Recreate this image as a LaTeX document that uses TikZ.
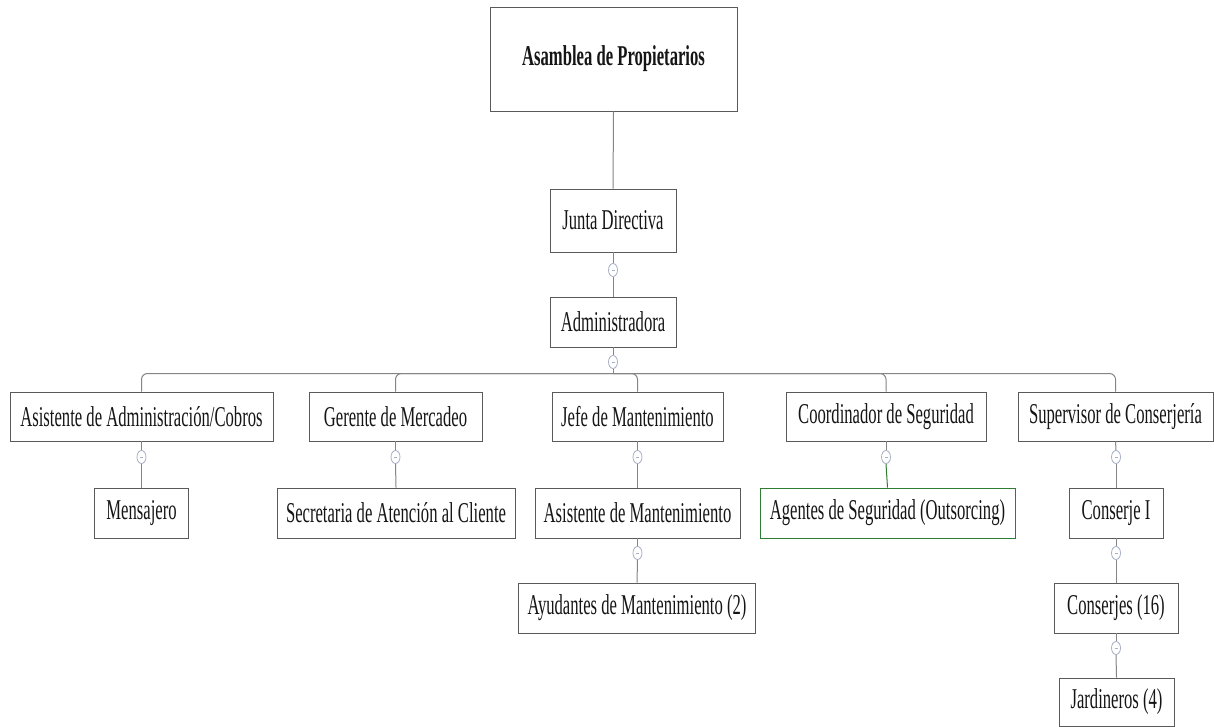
\documentclass[tikz,border=0pt]{standalone}
\usepackage{fontspec}
\setmainfont{Liberation Serif}[FakeStretch=0.58]
\usetikzlibrary{shapes.geometric}
\definecolor{boxline}{HTML}{5A5A5A}
\definecolor{conn}{HTML}{858585}
\definecolor{markcol}{HTML}{A8B0C8}
\definecolor{greenline}{HTML}{2E7D32}
\definecolor{txt}{HTML}{151515}
\tikzset{
  orgbox/.style={draw=boxline, line width=0.9pt, fill=white, inner sep=0pt, anchor=center,
    text=txt, font=\fontsize{28.7}{32}\selectfont},
  collapse/.style={ellipse, draw=markcol, line width=0.8pt, fill=white, inner sep=0pt,
    minimum width=9pt, minimum height=13pt,
    path picture={\draw[draw=markcol, line width=0.8pt] ([xshift=-1.5pt]path picture bounding box.center) -- ([xshift=1.5pt]path picture bounding box.center);}},
  link/.style={draw=conn, line width=1pt},
}
\begin{document}
\begin{tikzpicture}[x=1pt,y=-1pt]
\useasboundingbox[fill=white] (0,0) rectangle (1214,727);
% boxes
\node[orgbox, minimum width=247pt, minimum height=104pt, font=\fontsize{28.7}{32}\selectfont\bfseries] (asamblea) at (613.5,59) {Asamblea de Propietarios};
\node[orgbox, minimum width=126pt, minimum height=63pt] (junta) at (613,220.5) {Junta Directiva};
\node[orgbox, minimum width=126pt, minimum height=50pt] (admin) at (613,322) {Administradora};
% row 1
\node[orgbox, minimum width=263pt, minimum height=49pt] (asis) at (141.5,416.5) {Asistente de Administración/Cobros};
\node[orgbox, minimum width=173pt, minimum height=49pt] (gerente) at (395.5,416.5) {Gerente de Mercadeo};
\node[orgbox, minimum width=171pt, minimum height=49pt] (jefe) at (637.5,416.5) {Jefe de Mantenimiento};
\node[orgbox, minimum width=200pt, minimum height=49pt] (coord) at (886,416.5) {Coordinador de Seguridad};
\node[orgbox, minimum width=195pt, minimum height=49pt] (superv) at (1115.5,416.5) {Supervisor de Conserjería};
% row 2
\node[orgbox, minimum width=94pt, minimum height=50pt] (mensajero) at (141.5,513) {Mensajero};
\node[orgbox, minimum width=238pt, minimum height=50pt] (secretaria) at (396,513) {Secretaria de Atención al Cliente};
\node[orgbox, minimum width=205pt, minimum height=50pt] (asismant) at (637.5,513) {Asistente de Mantenimiento};
\node[orgbox, draw=greenline, minimum width=255pt, minimum height=50pt] (agentes) at (887.5,513) {Agentes de Seguridad (Outsorcing)};
\node[orgbox, minimum width=94pt, minimum height=50pt] (conserjeI) at (1116,513) {Conserje I};
% row 3
\node[orgbox, minimum width=237pt, minimum height=50pt] (ayudantes) at (637,608) {Ayudantes de Mantenimiento (2)};
\node[orgbox, minimum width=124pt, minimum height=50pt] (conserjes) at (1116,608) {Conserjes (16)};
\node[orgbox, minimum width=115pt, minimum height=48pt] (jardineros) at (1116.5,702) {Jardineros (4)};
% collapse markers
\node[collapse] (m1) at (613,270) {};
\node[collapse] (m2) at (613,362) {};
\node[collapse] (ma) at (141.5,457) {};
\node[collapse] (mg) at (395.5,457) {};
\node[collapse] (mj) at (637.5,457) {};
\node[collapse] (mc) at (886,457) {};
\node[collapse] (ms) at (1116,457) {};
\node[collapse] (mam) at (637.5,553) {};
\node[collapse] (mci) at (1116,553) {};
\node[collapse] (mcs) at (1116,648) {};
\coordinate (bus) at (613,373.5);
% connectors
\draw[link] (asamblea.south) -- (junta.north);
\draw[link] (junta.south) -- (m1.north);
\draw[link] (m1.south) -- (admin.north);
\draw[link] (admin.south) -- (m2.north);
\draw[link] (m2.south) -- (bus);
\foreach \c in {asis,gerente,jefe,coord,superv}{
  \draw[link, rounded corners=6pt] (bus) -| (\c.north);
}
\draw[link] (asis.south) -- (ma.north);
\draw[link] (ma.south) -- (mensajero.north);
\draw[link] (gerente.south) -- (mg.north);
\draw[link] (mg.south) -- (secretaria.north);
\draw[link] (jefe.south) -- (mj.north);
\draw[link] (mj.south) -- (asismant.north);
\draw[link] (asismant.south) -- (mam.north);
\draw[link] (mam.south) -- (ayudantes.north);
\draw[link] (coord.south) -- (mc.north);
\draw[link, draw=greenline] (mc.south) -- (agentes.north);
\draw[link] (superv.south) -- (ms.north);
\draw[link] (ms.south) -- (conserjeI.north);
\draw[link] (conserjeI.south) -- (mci.north);
\draw[link] (mci.south) -- (conserjes.north);
\draw[link] (conserjes.south) -- (mcs.north);
\draw[link] (mcs.south) -- (jardineros.north);
\end{tikzpicture}
\end{document}
